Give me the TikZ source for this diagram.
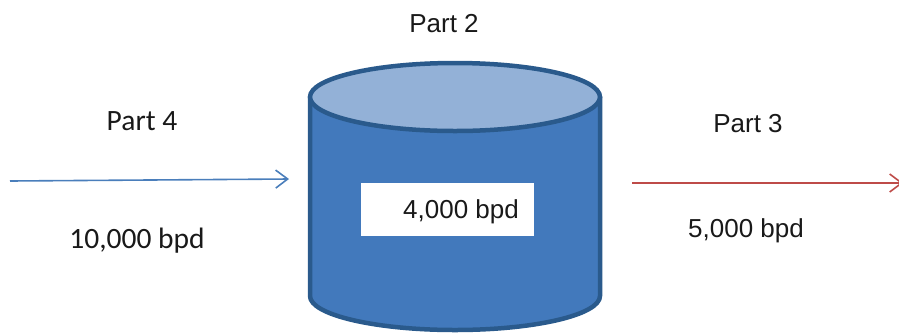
\documentclass[tikz,border=0pt]{standalone}
\usepackage{fontspec}
\setmainfont{Liberation Sans}
\newfontfamily\calfont{Carlito}
\usetikzlibrary{arrows.meta}
\definecolor{tankbody}{HTML}{4279BC}
\definecolor{tanktop}{HTML}{93B1D7}
\definecolor{tankedge}{HTML}{2A5A8C}
\definecolor{inflow}{HTML}{4A7EBB}
\definecolor{outflow}{HTML}{BE4B48}
\tikzset{
  arial/.style={font=\fontsize{26}{30}\selectfont, text=black!90, anchor=base, inner sep=0pt},
  calib/.style={font=\calfont\fontsize{29.5}{33}\selectfont, text=black!90, anchor=base, inner sep=0pt},
  flow/.style={line width=1.6pt, -{Straight Barb[length=12pt,width=18pt,line width=1.6pt]}}
}
\begin{document}
\begin{tikzpicture}[x=1pt,y=-1pt]
        \useasboundingbox (0,0) rectangle (899,333);
        \def\cx{455} \def\rx{145} \def\ry{34}
        \def\ytop{97} \def\ybot{296}

        % tank
        \filldraw[fill=tankbody, draw=tankedge, line width=4.5pt, line join=round]
          (\cx-\rx,\ytop) -- (\cx-\rx,\ybot) arc[start angle=180, end angle=360, x radius=\rx, y radius=-\ry]
          -- (\cx+\rx,\ytop) -- cycle;
        \filldraw[fill=tanktop, draw=tankedge, line width=4.5pt] (\cx,\ytop) ellipse[x radius=\rx, y radius=\ry];
        \node[fill=white, minimum width=173pt, minimum height=53pt, inner sep=0pt] (box) at (447.5,209.5) {};
        \node[arial] (stock) at (461,218) {4,000 bpd};

        % flows
        \coordinate (inA) at (10,181);
        \coordinate (inB) at (289,179);
        \coordinate (outA) at (632,183);
        \coordinate (outB) at (903,183);
        \draw[flow, inflow] (inA) -- (inB);
        \draw[flow, outflow] (outA) -- (outB);

        \node[arial] (p2) at (444,32) {Part 2};
        \node[calib] (p4) at (142,130) {Part 4};
        \node[calib] (inrate) at (137,248) {10,000 bpd};
        \node[arial] (p3) at (748,132) {Part 3};
        \node[arial] (outrate) at (746,237) {5,000 bpd};
      \end{tikzpicture}
\end{document}
